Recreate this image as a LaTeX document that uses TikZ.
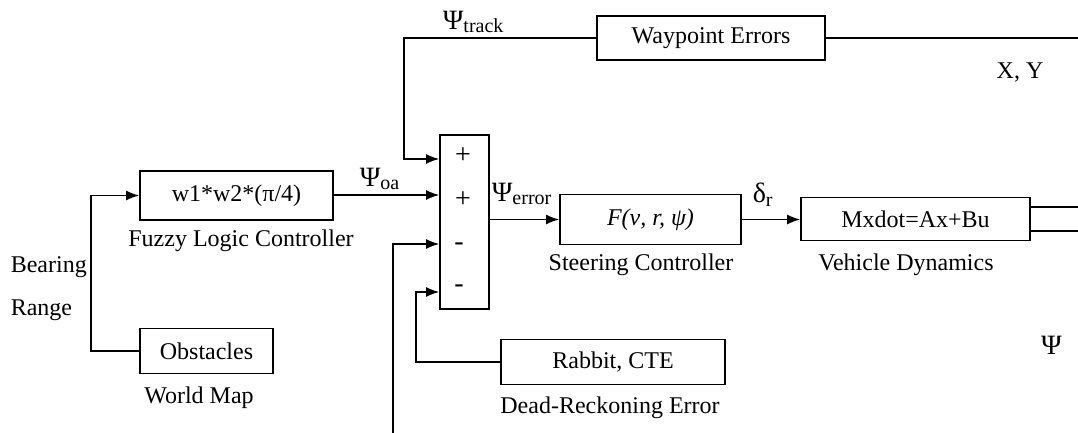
\documentclass[tikz,border=0pt]{standalone}
\usepackage{fontspec}
\setmainfont{Liberation Serif}
\usetikzlibrary{arrows.meta}
\newcommand{\subtxt}[1]{\raisebox{-0.35ex}{\fontsize{10}{10}\selectfont #1}}
\newcommand{\grk}[1]{{\fontsize{14}{14}\selectfont #1}}

\begin{document}
\begin{tikzpicture}[x=0.5pt,y=-0.5pt,line width=0.8pt,>={Latex[length=6.5pt,width=5pt]},
  font=\fontsize{12}{14}\selectfont,
  blk/.style={draw,inner sep=0pt},
  lbl/.style={inner sep=0pt}]
  \useasboundingbox (0,0) rectangle (1078,433);
  % bloques
  \node[blk,minimum width=96.5pt,minimum height=24.5pt] (fuzzy) at (236.5,195.5) {w1*w2*(π/4)};
  \node[blk,minimum width=66.5pt,minimum height=22.5pt] (obst) at (206.5,351) {Obstacles};
  \node[blk,minimum width=24.5pt,minimum height=87pt] (sum) at (464.5,222) {};
  \node[blk,minimum width=114pt,minimum height=22pt] (wp) at (711,38) {Waypoint Errors};
  \node[blk,minimum width=90.5pt,minimum height=25pt] (steer) at (650.5,219.5) {\textit{F(ν, r,  ψ)}};
  \node[blk,minimum width=114.5pt,minimum height=21.5pt] (veh) at (915.5,219) {Mxdot=Ax+Bu};
  \node[blk,minimum width=112pt,minimum height=22.5pt] (rab) at (613,362) {Rabbit, CTE};
  % signos del sumador
  \foreach \s/\x/\y [count=\i] in {+/463/156,+/463/200,-/459/247,-/459/289}
     \node[lbl,font=\fontsize{14}{14}\selectfont] (sg\i) at (\x,\y) {\s};
  % etiquetas
  \node[lbl,anchor=west] (bear) at (10,267) {Bearing};
  \node[lbl,anchor=west] (rng) at (10,310) {Range};
  \node[lbl] (fuzzyl) at (241,241) {Fuzzy Logic Controller};
  \node[lbl] (obstl) at (199,398) {World Map};
  \node[lbl] (steerl) at (641,265) {Steering Controller};
  \node[lbl] (vehl) at (906,265) {Vehicle Dynamics};
  \node[lbl] (rabl) at (610,408) {Dead-Reckoning Error};
  \node[lbl,anchor=west] (psitr) at (442,22) {\grk{Ψ}\subtxt{track}};
  \node[lbl,anchor=west] (psioa) at (359,179) {\grk{Ψ}\subtxt{oa}};
  \node[lbl,anchor=west] (psier) at (491,194) {\grk{Ψ}\subtxt{error}};
  \node[lbl,anchor=west] (dr) at (752,195) {\grk{δ}\subtxt{r}};
  \node[lbl] (xy) at (1020,72) {X, Y};
  \node[lbl] (psi) at (1051.5,345) {\grk{Ψ}};
  % conexiones
  \foreach \y [count=\i] in {159,195,244,292} \coordinate (in\i) at (sum.west |- 0,\y);
  \coordinate (xyend) at (1078,38);
  \coordinate (bot) at (393,433);
  \coordinate (vo1) at (1078,207);
  \coordinate (vo2) at (1078,231);
  \draw (xyend) -- (wp.east);
  \draw[->] (wp.west) -- ++(-192,0) |- (in1);
  \draw[->] (fuzzy.east |- in2) -- (in2);
  \draw[->] (obst.west) -- ++(-48,0) |- (fuzzy.west);
  \draw[->] (bot) |- (in3);
  \draw[->] (rab.west) -- ++(-84,0) |- (in4);
  \draw[->] (sum.east |- steer.west) -- (steer.west);
  \draw[->] (steer.east) -- (steer.east -| veh.west);
  \draw (veh.east |- vo1) -- (vo1);
  \draw (veh.east |- vo2) -- (vo2);
\end{tikzpicture}
\end{document}
